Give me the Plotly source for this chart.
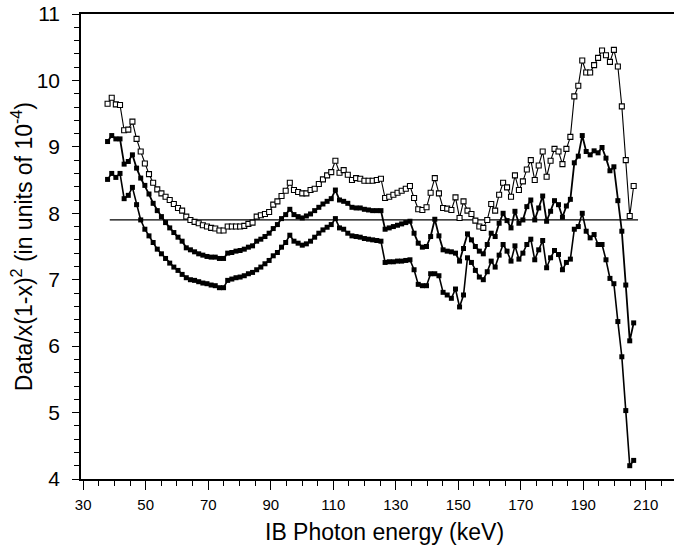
import plotly.graph_objects as go

# Photon energy (keV) of each data point
energy_kev = [
    37.80, 39.13, 40.45, 41.78, 43.10, 44.43, 45.75, 47.08, 48.40, 49.73,
    51.05, 52.38, 53.70, 55.03, 56.35, 57.68, 59.00, 60.33, 61.65, 62.98,
    64.30, 65.63, 66.95, 68.28, 69.60, 70.93, 72.25, 73.58, 74.90, 76.23,
    77.55, 78.88, 80.20, 81.53, 82.85, 84.18, 85.50, 86.83, 88.15, 89.48,
    90.80, 92.13, 93.45, 94.78, 96.10, 97.43, 98.75, 100.08, 101.40, 102.73,
    104.05, 105.38, 106.70, 108.03, 109.35, 110.68, 112.00, 113.33, 114.65, 115.98,
    117.30, 118.63, 119.95, 121.28, 122.60, 123.93, 125.25, 126.58, 127.90, 129.23,
    130.55, 131.88, 133.20, 134.53, 135.85, 137.18, 138.50, 139.83, 141.15, 142.48,
    143.80, 145.13, 146.45, 147.78, 149.10, 150.40, 151.67, 152.93, 154.20, 155.46,
    156.73, 158.00, 159.26, 160.53, 161.79, 163.06, 164.33, 165.59, 166.86, 168.12,
    169.39, 170.66, 171.92, 173.19, 174.45, 175.72, 176.99, 178.25, 179.52, 180.78,
    182.05, 183.32, 184.58, 185.85, 187.11, 188.38, 189.65, 190.91, 192.18, 193.44,
    194.71, 195.98, 197.24, 198.51, 199.77, 201.04, 202.31, 203.57, 204.84, 206.10,
]

# upper curve (open squares)
upper = [
    9.65, 9.74, 9.64, 9.63, 9.25, 9.26, 9.38, 9.12, 8.93, 8.75,
    8.59, 8.46, 8.36, 8.30, 8.25, 8.20, 8.14, 8.08, 8.04, 7.95,
    7.90, 7.87, 7.85, 7.82, 7.80, 7.78, 7.77, 7.74, 7.74, 7.80,
    7.80, 7.80, 7.80, 7.81, 7.84, 7.86, 7.95, 7.97, 7.99, 8.02,
    8.13, 8.18, 8.26, 8.34, 8.46, 8.35, 8.32, 8.30, 8.30, 8.35,
    8.37, 8.44, 8.51, 8.57, 8.62, 8.79, 8.61, 8.65, 8.58, 8.50,
    8.53, 8.52, 8.49, 8.49, 8.49, 8.50, 8.52, 8.23, 8.25, 8.28,
    8.31, 8.34, 8.37, 8.41, 8.23, 8.06, 8.05, 8.09, 8.31, 8.53,
    8.30, 8.08, 8.07, 8.05, 8.24, 7.93, 8.18, 8.04, 7.99, 7.89,
    7.80, 7.78, 7.90, 8.14, 8.04, 8.28, 8.46, 8.39, 8.25, 8.57,
    8.35, 8.48, 8.66, 8.80, 8.50, 8.72, 8.93, 8.55, 8.79, 8.97,
    8.93, 8.74, 8.97, 9.15, 9.76, 9.92, 10.30, 10.12, 10.12, 10.23,
    10.34, 10.45, 10.38, 10.28, 10.46, 10.21, 9.61, 8.80, 7.96, 8.41,
]

# middle curve (filled squares)
middle = [
    9.08, 9.17, 9.12, 9.12, 8.74, 8.78, 8.88, 8.68, 8.53, 8.42,
    8.29, 8.15, 8.04, 7.95, 7.86, 7.78, 7.71, 7.64, 7.58, 7.48,
    7.45, 7.42, 7.39, 7.37, 7.35, 7.34, 7.34, 7.32, 7.32, 7.40,
    7.41, 7.43, 7.44, 7.46, 7.49, 7.51, 7.58, 7.61, 7.65, 7.70,
    7.77, 7.83, 7.92, 7.98, 8.06, 7.98, 7.95, 7.93, 7.96, 7.99,
    8.04, 8.09, 8.14, 8.18, 8.22, 8.35, 8.20, 8.18, 8.15, 8.09,
    8.08, 8.08, 8.06, 8.05, 8.04, 8.04, 8.04, 7.76, 7.78, 7.80,
    7.82, 7.84, 7.86, 7.88, 7.70, 7.55, 7.49, 7.50, 7.65, 7.91,
    7.66, 7.45, 7.43, 7.42, 7.40, 7.28, 7.47, 7.69, 7.60, 7.50,
    7.43, 7.39, 7.53, 7.70, 7.65, 7.85, 8.00, 7.89, 7.78, 8.03,
    7.85, 7.90, 8.10, 8.20, 7.90, 8.08, 8.26, 7.88, 8.03, 8.19,
    8.13, 7.94, 8.11, 8.21, 8.76, 8.86, 9.17, 8.93, 8.88, 8.94,
    8.91, 8.99, 8.83, 8.64, 8.70, 8.19, 7.73, 6.92, 6.08, 6.35,
]

# lower curve (filled squares)
lower = [
    8.51, 8.60, 8.54, 8.60, 8.22, 8.27, 8.39, 8.13, 7.90, 7.76,
    7.66, 7.56, 7.46, 7.39, 7.32, 7.25, 7.19, 7.14, 7.08, 7.03,
    7.00, 6.99, 6.97, 6.95, 6.94, 6.92, 6.91, 6.88, 6.88, 6.99,
    7.01, 7.03, 7.04, 7.06, 7.09, 7.11, 7.15, 7.19, 7.24, 7.29,
    7.36, 7.41, 7.49, 7.56, 7.67, 7.58, 7.55, 7.52, 7.54, 7.58,
    7.64, 7.70, 7.75, 7.79, 7.83, 7.92, 7.78, 7.76, 7.70, 7.66,
    7.65, 7.64, 7.62, 7.61, 7.60, 7.59, 7.58, 7.26, 7.27, 7.27,
    7.28, 7.28, 7.29, 7.30, 7.15, 6.93, 6.91, 6.91, 7.09, 7.09,
    7.06, 6.81, 6.77, 6.72, 6.86, 6.59, 6.77, 7.33, 7.26, 7.14,
    7.04, 7.00, 7.12, 7.28, 7.19, 7.37, 7.53, 7.43, 7.28, 7.51,
    7.31, 7.40, 7.53, 7.61, 7.30, 7.45, 7.59, 7.18, 7.33, 7.44,
    7.38, 7.15, 7.26, 7.31, 7.76, 7.80, 8.00, 7.73, 7.63, 7.68,
    7.53, 7.53, 7.30, 7.02, 6.94, 6.37, 5.84, 5.03, 4.20, 4.28,
]

# horizontal reference line
ref_x = [38.5, 207.5]
ref_y = [7.9, 7.9]

x_tick_vals = [30, 50, 70, 90, 110, 130, 150, 170, 190, 210]
y_tick_vals = [4, 5, 6, 7, 8, 9, 10, 11]

FONT = "Liberation Sans, Arial, sans-serif"

fig = go.Figure()
fig.add_trace(go.Scatter(x=ref_x, y=ref_y, mode="lines",
                         line=dict(color="black", width=1.3), hoverinfo="skip"))
fig.add_trace(go.Scatter(x=energy_kev, y=lower, mode="lines+markers",
                         line=dict(color="black", width=1.6),
                         marker=dict(symbol="square", size=5, color="black")))
fig.add_trace(go.Scatter(x=energy_kev, y=middle, mode="lines+markers",
                         line=dict(color="black", width=1.8),
                         marker=dict(symbol="square", size=5, color="black")))
fig.add_trace(go.Scatter(x=energy_kev, y=upper, mode="lines+markers",
                         line=dict(color="black", width=1.1),
                         marker=dict(symbol="square", size=5, color="white",
                                     line=dict(color="black", width=1.1))))

fig.update_layout(
    width=674, height=550,
    margin=dict(l=81, r=0, t=14, b=71),
    paper_bgcolor="white", plot_bgcolor="white",
    showlegend=False,
    font=dict(family=FONT, color="black"),
    xaxis=dict(
        range=[29.3, 219.0], tickvals=x_tick_vals,
        ticks="outside", ticklen=9, tickwidth=1.2, tickcolor="black",
        ticklabelstandoff=2,
        minor=dict(dtick=5, tick0=30, ticks="outside", ticklen=5,
                   tickwidth=1, tickcolor="black", showgrid=False),
        showline=True, linecolor="black", linewidth=1.6, mirror=True,
        showgrid=False, zeroline=False,
        tickfont=dict(size=15, family=FONT, color="black"),
    ),
    yaxis=dict(
        range=[4, 11], tickvals=y_tick_vals,
        ticks="outside", ticklen=7, tickwidth=1.2, tickcolor="black",
        ticklabelstandoff=8,
        minor=dict(dtick=0.2, tick0=4, ticks="outside", ticklen=5,
                   tickwidth=1, tickcolor="black", showgrid=False),
        showline=True, linecolor="black", linewidth=1.6,
        showgrid=False, zeroline=False,
        tickfont=dict(size=21, family=FONT, color="black"),
    ),
    annotations=[
        dict(text="IB Photon energy (keV)", xref="paper", yref="paper",
             x=0.511, y=-0.113, xanchor="center", yanchor="middle",
             showarrow=False, font=dict(size=23, family=FONT, color="black")),
        dict(text="Data/x(1-x)<sup>2</sup> (in units of 10<sup>-4</sup>)",
             xref="paper", yref="paper", x=-0.1, y=0.5,
             xanchor="center", yanchor="middle", textangle=-90,
             showarrow=False, font=dict(size=23, family=FONT, color="black")),
    ],
)

fig.write_html("out.html")
